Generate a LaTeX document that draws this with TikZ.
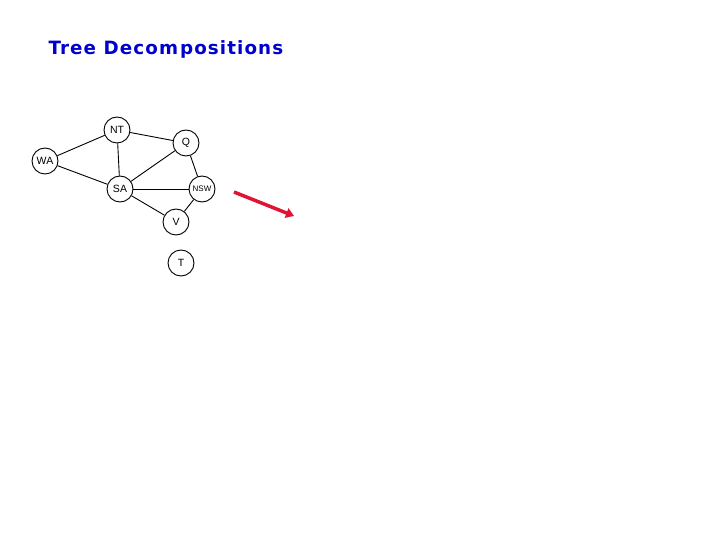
\documentclass[tikz,border=0pt]{standalone}
\usepackage{fontspec}
\setmainfont{Liberation Sans}
\newfontfamily\titlefont[LetterSpace=6]{DejaVu Sans}
\usetikzlibrary{calc}
\usetikzlibrary{positioning}
\usetikzlibrary{arrows.meta}
\definecolor{title-blue}{RGB}{0, 0, 204}
\definecolor{arrow-red}{RGB}{224, 20, 50}
\tikzset{region/.style={circle, draw=black, fill=white, line width=0.9pt, minimum size=26pt, inner sep=0pt, font=\fontsize{10.5}{10.5}\selectfont}}
\begin{document}
\begin{tikzpicture}[x=1pt, y=-1pt]
\useasboundingbox (0,0) rectangle (720,540);
\node[anchor=west, text=title-blue, font=\titlefont\bfseries\fontsize{18.3}{18.3}\selectfont] (title) at (45,49.5) {Tree Decom\kern2pt positions};

\node[region] (NT) at (117,130) {NT};
\node[region] (Q) at (186,143) {Q};
\node[region] (WA) at (45,161) {WA};
\node[region] (SA) at (120,189) {SA};
\node[region, font=\fontsize{8}{8}\selectfont] (NSW) at (202,189) {NSW};
\node[region] (V) at (176,222) {V};
\node[region] (T) at (181,263) {T};

\draw[line width=0.9pt] (WA) -- (NT);
\draw[line width=0.9pt] (WA) -- (SA);
\draw[line width=0.9pt] (NT) -- (SA);
\draw[line width=0.9pt] (NT) -- (Q);
\draw[line width=0.9pt] (Q) -- (SA);
\draw[line width=0.9pt] (Q) -- (NSW);
\draw[line width=0.9pt] (SA) -- (NSW);
\draw[line width=0.9pt] (SA) -- (V);
\draw[line width=0.9pt] (V) -- (NSW);

\coordinate (tail) at (234,192);
\coordinate (head) at (294,216);
\draw[arrow-red, line width=3.5pt, -{Triangle[length=8pt, width=10pt]}] (tail) -- (head);
\end{tikzpicture}
\end{document}
